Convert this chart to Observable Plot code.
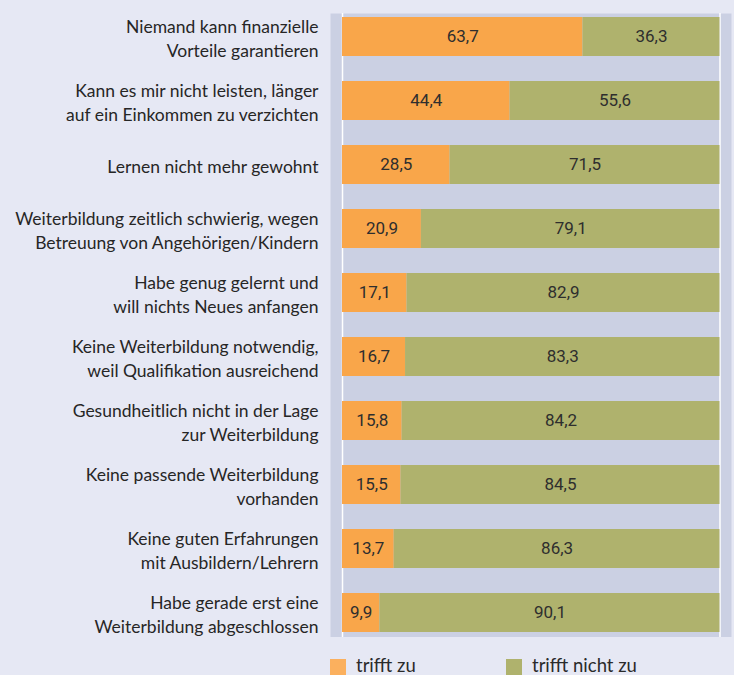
<!DOCTYPE html>
<html><head><meta charset="utf-8">
<script src="https://cdn.jsdelivr.net/npm/d3@7"></script>
<script src="https://cdn.jsdelivr.net/npm/@observablehq/plot@0.6"></script>
<style>
body{margin:0;background:#e6e8f4;font-family:Lato,"Open Sans",sans-serif;}
#chart svg{display:block;}
#legend{position:relative;height:38px;font-size:18.5px;color:#2a2a2a;}
.sw{position:absolute;top:22px;width:16px;height:16px;}
.lt{position:absolute;top:19px;line-height:18px;}
</style></head>
<body><div id="chart"></div>
<div id="legend">
<div class="sw" style="left:330px;background:#fbb05e"></div><div class="lt" style="left:356px">trifft zu</div>
<div class="sw" style="left:506px;background:#afb26d"></div><div class="lt" style="left:532px">trifft nicht zu</div>
</div>
<script>
const categories = [
 "Niemand kann finanzielle\nVorteile garantieren",
 "Kann es mir nicht leisten, länger\nauf ein Einkommen zu verzichten",
 "Lernen nicht mehr gewohnt",
 "Weiterbildung zeitlich schwierig, wegen\nBetreuung von Angehörigen/Kindern",
 "Habe genug gelernt und\nwill nichts Neues anfangen",
 "Keine Weiterbildung notwendig,\nweil Qualifikation ausreichend",
 "Gesundheitlich nicht in der Lage\nzur Weiterbildung",
 "Keine passende Weiterbildung\nvorhanden",
 "Keine guten Erfahrungen\nmit Ausbildern/Lehrern",
 "Habe gerade erst eine\nWeiterbildung abgeschlossen"
];
const triffZu = [63.7, 44.4, 28.5, 20.9, 17.1, 16.7, 15.8, 15.5, 13.7, 9.9];
const triffNicht = [36.3, 55.6, 71.5, 79.1, 82.9, 83.3, 84.2, 84.5, 86.3, 90.1];
const seriesNames = ["trifft zu", "trifft nicht zu"];

const data = [];
categories.forEach((c, i) => {
  data.push({cat: c, series: seriesNames[0], value: triffZu[i]});
  data.push({cat: c, series: seriesNames[1], value: triffNicht[i]});
});
const fmt = v => v.toFixed(1).replace(".", ",");

const chart = Plot.plot({
  width: 734, height: 637,
  marginTop: 13, marginBottom: 0, marginLeft: 330, marginRight: 3,
  style: {background: "transparent", fontFamily: "Lato, 'Open Sans', sans-serif"},
  x: {domain: [-3.18, 103.05], axis: null},
  y: {domain: categories, range: [16, 633], paddingInner: 0.393, paddingOuter: 0, label: null},
  color: {domain: seriesNames, range: ["#f9a64a", "#afb26d"]},
  marks: [
    Plot.frame({fill: "#cbd0e3", stroke: null}),
    Plot.ruleX([0, 100], {stroke: "#ffffff", strokeWidth: 1.5}),
    Plot.barX(data, Plot.stackX({x: "value", y: "cat", fill: "series", order: seriesNames})),
    Plot.textX(data, Plot.stackX({x: "value", y: "cat", z: "series", order: seriesNames, text: d => fmt(d.value), fill: "#2e2e2e", fontSize: 17, fontFamily: "Roboto, sans-serif"})),
    Plot.axisY({tickSize: 0, tickPadding: 12, fontSize: 17.5, lineHeight: 24 / 17.5, fill: "#262626", label: null, dy: 0})
  ]
});
document.getElementById("chart").appendChild(chart);
</script>
</body></html>
